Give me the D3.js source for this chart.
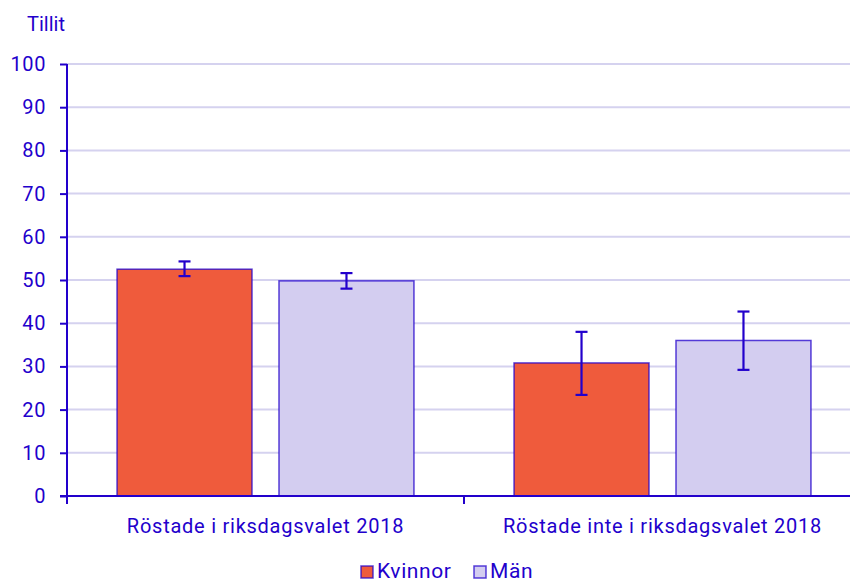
<!DOCTYPE html>
<html><head><meta charset="utf-8">
<script src="https://cdn.jsdelivr.net/npm/d3@7"></script>
<style>body{margin:0;background:#fff}svg{display:block;font-family:Roboto,"Noto Sans",sans-serif}</style>
</head><body><svg id="c" width="850" height="583"></svg>
<script>
const categories = ["Röstade i riksdagsvalet 2018", "Röstade inte i riksdagsvalet 2018"];
const seriesNames = ["Kvinnor", "Män"];
const kvinnor = [52.5, 30.8];
const kvinnorLow = [50.9, 23.4];
const kvinnorHigh = [54.3, 38.0];
const man = [49.8, 36.0];
const manLow = [48.0, 29.2];
const manHigh = [51.6, 42.7];
const yTicks = [0,10,20,30,40,50,60,70,80,90,100];
const yTitle = "Tillit";

(function(){
const colors = ["#EF5B3C", "#D3CDF0"];
const ink = "#2200CC";
const fs = "20px";
const svg = d3.select("#c");
const mLeft = 67, mRight = 861, mTop = 64, mBottom = 496;
const x = d3.scaleBand().domain(categories).range([mLeft, mRight]).paddingInner(0).paddingOuter(0);
const xs = d3.scaleBand().domain(seriesNames).range([0, x.bandwidth()]).paddingInner(0.1667).paddingOuter(0.309);
const y = d3.scaleLinear().domain([0, 100]).range([mBottom, mTop]);

svg.append("g").selectAll("line").data(yTicks.filter(d=>d>0)).join("line")
  .attr("x1", mLeft).attr("x2", 850).attr("y1", d=>y(d)).attr("y2", d=>y(d))
  .attr("stroke", "#D5D2EF").attr("stroke-width", 2);

const data = [
  {s:0, vals:kvinnor, lo:kvinnorLow, hi:kvinnorHigh},
  {s:1, vals:man, lo:manLow, hi:manHigh}
];
data.forEach(ser => {
  categories.forEach((c,i) => {
    const bx = x(c) + xs(seriesNames[ser.s]);
    const bw = xs.bandwidth();
    svg.append("rect").attr("x", bx).attr("y", y(ser.vals[i])).attr("width", bw)
      .attr("height", y(0)-y(ser.vals[i])).attr("fill", colors[ser.s])
      .attr("stroke", ink).attr("stroke-opacity", 0.75).attr("stroke-width", 1.5);
  });
});
data.forEach(ser => {
  categories.forEach((c,i) => {
    const cx = x(c) + xs(seriesNames[ser.s]) + xs.bandwidth()/2;
    const g = svg.append("g").attr("stroke", ink).attr("stroke-width", 2.2);
    g.append("line").attr("x1", cx).attr("x2", cx).attr("y1", y(ser.lo[i])).attr("y2", y(ser.hi[i]));
    g.append("line").attr("x1", cx-6).attr("x2", cx+6).attr("y1", y(ser.lo[i])).attr("y2", y(ser.lo[i]));
    g.append("line").attr("x1", cx-6).attr("x2", cx+6).attr("y1", y(ser.hi[i])).attr("y2", y(ser.hi[i]));
  });
});

const ya = svg.append("g").attr("transform", `translate(${mLeft},0)`)
  .call(d3.axisLeft(y).tickValues(yTicks).tickSize(7).tickPadding(14));
ya.select(".domain").remove();
ya.append("line").attr("x1",0).attr("x2",0).attr("y1", mTop).attr("y2", mBottom+8).attr("stroke", ink).attr("stroke-width", 2);
ya.selectAll(".tick line").attr("stroke", ink).attr("stroke-width", 2);
ya.selectAll(".tick text").attr("fill", ink).attr("font-size", null).style("font-size", fs)
  .style("letter-spacing", "0.6px").style("font-family", "Roboto");

svg.append("line").attr("x1", mLeft-7).attr("x2", 850).attr("y1", mBottom).attr("y2", mBottom).attr("stroke", ink).attr("stroke-width", 2.2);
const bounds = categories.map(c => x(c)).concat([mRight]);
svg.append("g").selectAll("line").data(bounds).join("line")
  .attr("x1", d=>d).attr("x2", d=>d).attr("y1", mBottom).attr("y2", mBottom+8).attr("stroke", ink).attr("stroke-width", 2);
svg.append("g").selectAll("text").data(categories).join("text")
  .attr("x", d=>x(d)+x.bandwidth()/2).attr("y", 533).attr("text-anchor","middle")
  .attr("fill", ink).style("font-size",fs).style("letter-spacing","0.75px").text(d=>d);

svg.append("text").attr("x", 27).attr("y", 31).attr("fill", ink).style("font-size",fs).text(yTitle);

const leg = [{n:seriesNames[0], c:colors[0], x:361},{n:seriesNames[1], c:colors[1], x:474}];
leg.forEach(l => {
  svg.append("rect").attr("x", l.x).attr("y", 566).attr("width", 12).attr("height", 12)
    .attr("fill", l.c).attr("stroke", ink).attr("stroke-opacity",0.75).attr("stroke-width", 1.5);
  svg.append("text").attr("x", l.x+16).attr("y", 578).attr("fill", ink).style("font-size","21px")
    .style("letter-spacing","0.6px").text(l.n);
});
})();
</script></body></html>
